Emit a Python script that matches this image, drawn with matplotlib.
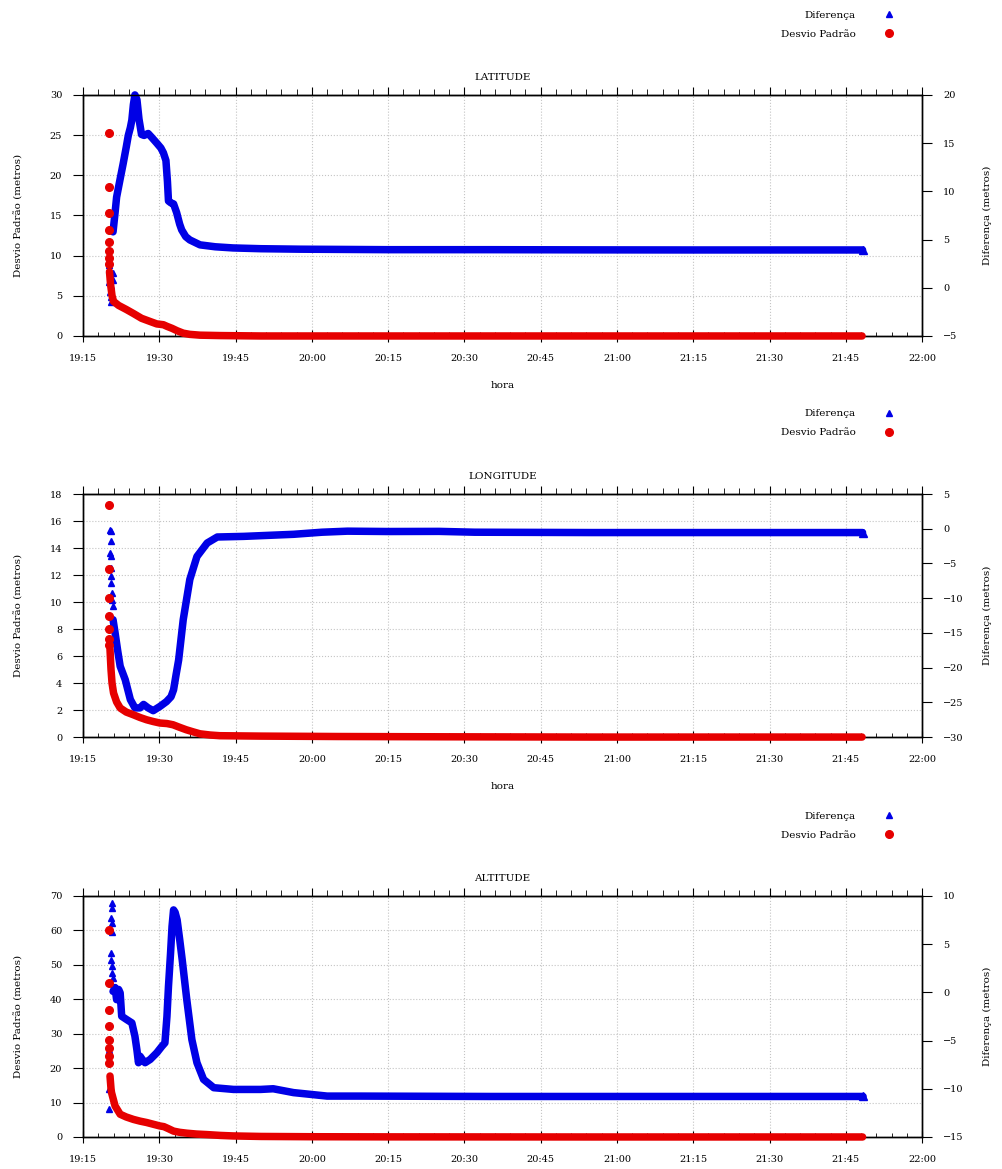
import matplotlib
matplotlib.use('Agg')
import matplotlib.pyplot as plt
import matplotlib.dates as mdates
from matplotlib.lines import Line2D
from matplotlib.ticker import MultipleLocator, NullFormatter
import pandas as pd

plt.rcParams['font.family'] = 'DejaVu Serif'
plt.rcParams['font.size'] = 7

BLUE = '#0000e6'
RED = '#e60000'

# all times are minutes after 19:15
# ---- LATITUDE ----
lat_dp_spread_t = [5.1, 5.1, 5.1, 5.1, 5.1, 5.1, 5.1, 5.1]
lat_dp_spread_v = [25.3, 18.6, 15.3, 13.2, 11.7, 10.6, 9.7, 8.9]
lat_dp_t = [5.2, 5.4, 5.7, 6.0, 7.0, 8.5, 9.9, 11.5, 13.2, 14.5, 15.8, 16.5, 17.5,
            18.5, 19.7, 21.0, 23.0, 27.0, 35.0, 60.0, 100.0, 153.2]
lat_dp_v = [8.0, 6.5, 5.0, 4.3, 3.8, 3.3, 2.8, 2.2, 1.8, 1.5, 1.4, 1.2, 0.95,
            0.65, 0.35, 0.2, 0.1, 0.05, 0.0, 0.0, 0.0, 0.0]
lat_dif_spread_t = [5.1, 5.2, 5.3, 5.2, 5.4, 5.3, 5.5, 5.4, 5.8, 5.9]
lat_dif_spread_v = [2.4, 1.8, 1.2, 0.6, 0.2, -0.4, -1.0, -1.5, 1.5, 0.8]
lat_dif_t = [5.9, 6.3, 6.6, 7.3, 7.9, 8.5, 8.9, 9.3, 9.6, 9.9, 10.2, 10.6, 11.0,
             11.5, 12.0, 12.8, 13.5, 14.5, 15.3, 15.8, 16.3, 16.6, 16.8, 17.3,
             17.8, 18.4, 19.0, 19.4, 20.2, 21.0, 23.0, 26.0, 29.5, 35.0, 42.7,
             60.0, 80.0, 100.0, 120.0, 153.3]
lat_dif_v = [5.8, 7.8, 9.4, 11.3, 12.9, 14.6, 15.8, 16.6, 17.4, 19.0, 20.0, 19.5,
             17.5, 15.9, 15.8, 16.0, 15.6, 15.0, 14.5, 14.0, 13.2, 11.0, 9.0, 8.8,
             8.7, 7.8, 6.6, 6.0, 5.3, 4.96, 4.45, 4.25, 4.13, 4.05, 4.0,
             3.95, 3.95, 3.93, 3.92, 3.92]

# ---- LONGITUDE ----
lon_dp_spread_t = [5.2, 5.2, 5.2, 5.2, 5.2, 5.2, 5.2]
lon_dp_spread_v = [17.15, 12.47, 10.3, 8.93, 8.0, 7.28, 6.84]
lon_dp_t = [5.3, 5.5, 5.7, 6.0, 6.6, 7.3, 8.5, 9.9, 11.2, 12.5, 13.8, 15.1, 16.5,
            17.7, 19.0, 20.3, 21.7, 23.0, 25.0, 26.9, 35.0, 50.0, 70.0, 100.0, 153.2]
lon_dp_v = [6.5, 5.0, 4.0, 3.26, 2.6, 2.15, 1.85, 1.65, 1.45, 1.28, 1.15, 1.04, 1.0,
            0.91, 0.72, 0.54, 0.38, 0.24, 0.15, 0.1, 0.07, 0.04, 0.02, 0.0, 0.0]
lon_dif_spread_t = [5.3, 5.4, 5.4, 5.3, 5.4, 5.5, 5.5, 5.5, 5.6, 5.7, 5.8]
lon_dif_spread_v = [-0.14, -0.3, -1.83, -3.5, -3.99, -5.66, -6.87, -7.82, -9.26,
                    -10.3, -11.19]
lon_dif_t = [5.9, 6.3, 6.8, 7.3, 8.3, 9.3, 10.2, 11.2, 11.9, 12.8, 13.8, 15.1, 16.4,
             17.3, 17.8, 18.3, 18.8, 19.7, 21.0, 22.4, 24.4, 26.4, 31.6, 41.4,
             47.0, 52.0, 60.0, 70.0, 77.0, 100.0, 153.3]
lon_dif_v = [-13.1, -15.0, -17.5, -19.8, -21.75, -24.6, -25.8, -25.8, -25.3, -25.8,
             -26.2, -25.6, -24.9, -24.2, -23.2, -21.0, -18.9, -13.1, -7.3, -4.0,
             -2.06, -1.19, -1.1, -0.8, -0.5, -0.35, -0.4, -0.38, -0.5, -0.55, -0.55]

# ---- ALTITUDE ----
alt_dp_spread_t = [5.2, 5.2, 5.2, 5.2, 5.2, 5.2, 5.2, 5.2]
alt_dp_spread_v = [60.2, 44.7, 37.0, 32.1, 28.3, 25.9, 23.5, 21.5]
alt_dp_t = [5.3, 5.5, 5.6, 6.3, 7.3, 8.5, 9.9, 11.2, 12.5, 13.8, 15.1, 15.9, 16.8,
            17.8, 19.0, 20.4, 22.3, 24.3, 27.0, 29.5, 35.0, 45.0, 60.0, 100.0, 153.3]
alt_dp_v = [17.7, 14.0, 12.9, 9.0, 6.6, 5.8, 5.1, 4.6, 4.2, 3.7, 3.2, 3.0, 2.4,
            1.7, 1.35, 1.1, 0.85, 0.7, 0.45, 0.3, 0.15, 0.07, 0.03, 0.0, 0.0]
alt_dif_spread_t = [5.6, 5.7, 5.5, 5.6, 5.6, 5.4, 5.5, 5.6, 5.7, 5.8, 5.2, 5.2, 5.1]
alt_dif_spread_v = [9.25, 8.73, 7.7, 7.18, 6.3, 4.07, 3.38, 2.69, 2.0, 1.49,
                    -5.93, -10.07, -12.1]
alt_dif_t = [5.9, 6.3, 6.6, 7.0, 7.3, 7.6, 8.6, 9.6, 10.2, 10.6, 10.9, 11.2, 11.7,
             12.2, 13.2, 14.5, 15.5, 16.1, 16.5, 16.8, 17.2, 17.5, 17.8, 18.1, 18.5,
             19.0, 19.5, 20.4, 21.4, 22.4, 23.7, 25.7, 29.6, 34.9, 37.4, 41.4, 48.0,
             54.5, 80.0, 120.0, 153.4]
alt_dif_v = [0.1, 0.5, -0.76, 0.3, -0.06, -2.48, -2.83, -3.17, -4.55, -6.0, -7.3,
             -6.62, -7.0, -7.3, -6.96, -6.27, -5.6, -5.24, -2.5, 0.62, 4.0, 6.83,
             8.55, 8.3, 7.52, 5.5, 3.38, -0.76, -4.9, -7.3, -9.03, -9.89, -10.07,
             -10.07, -10.0, -10.4, -10.76, -10.76, -10.8, -10.8, -10.8]

titles = ['LATITUDE', 'LONGITUDE', 'ALTITUDE']
left_lims = [(0, 30), (0, 18), (0, 70)]
left_steps = [5, 2, 10]
right_lims = [(-5, 20), (-30, 5), (-15, 10)]

series = [
    (lat_dp_spread_t, lat_dp_spread_v, lat_dp_t, lat_dp_v,
     lat_dif_spread_t, lat_dif_spread_v, lat_dif_t, lat_dif_v),
    (lon_dp_spread_t, lon_dp_spread_v, lon_dp_t, lon_dp_v,
     lon_dif_spread_t, lon_dif_spread_v, lon_dif_t, lon_dif_v),
    (alt_dp_spread_t, alt_dp_spread_v, alt_dp_t, alt_dp_v,
     alt_dif_spread_t, alt_dif_spread_v, alt_dif_t, alt_dif_v),
]

base = pd.Timestamp('2014-01-01 19:15')


def to_num(minutes):
    return mdates.date2num(base + pd.to_timedelta(minutes, unit='min'))


rects = [(0.0828, 0.7126, 0.8365, 0.2062),
         (0.0828, 0.3695, 0.8365, 0.2079),
         (0.0828, 0.0274, 0.8365, 0.2062)]

fig = plt.figure(figsize=(10.03, 11.69), dpi=100)

for i, rect in enumerate(rects):
    dp_st, dp_sv, dp_t, dp_v, df_st, df_sv, df_t, df_v = series[i]

    ax = fig.add_axes(rect)
    ax.set_zorder(0)
    ax2 = ax.twinx()
    ax2.set_zorder(1)
    ax3 = fig.add_axes(rect, sharex=ax, sharey=ax)
    ax3.set_zorder(2)
    ax3.set_axis_off()

    # Diferenca (right axis)
    ax2.plot(to_num(df_t), df_v, color=BLUE, lw=5.4, marker='^', ms=5.5,
             markevery=[-1], solid_capstyle='round', solid_joinstyle='round',
             clip_on=False)
    ax2.plot(to_num(df_st), df_sv, ls='none', color=BLUE, marker='^', ms=5,
             clip_on=False)
    # Desvio Padrao (left axis)
    ax3.plot(to_num(dp_t), dp_v, color=RED, lw=5.4, solid_capstyle='round',
             solid_joinstyle='round', clip_on=False)
    ax3.plot(to_num(dp_st), dp_sv, ls='none', color=RED, marker='o', ms=5.5,
             clip_on=False)

    ax.set_xlim(to_num(0), to_num(165))
    ax.set_ylim(*left_lims[i])
    ax2.set_ylim(*right_lims[i])
    ax.yaxis.set_major_locator(MultipleLocator(left_steps[i]))
    ax2.yaxis.set_major_locator(MultipleLocator(5))

    ax.xaxis.set_major_locator(mdates.MinuteLocator(byminute=[0, 15, 30, 45]))
    ax.xaxis.set_minor_locator(mdates.MinuteLocator(byminute=range(0, 60, 3)))
    ax.xaxis.set_major_formatter(mdates.DateFormatter('%H:%M'))

    ax.tick_params(axis='x', which='major', direction='inout', length=8, pad=9,
                   labelsize=7)
    ax.tick_params(axis='x', which='minor', direction='in', length=3)
    ax.tick_params(axis='y', direction='out', length=7, pad=8, labelsize=7)
    ax2.tick_params(axis='y', direction='out', length=7, pad=8, labelsize=7)

    top = ax.secondary_xaxis('top')
    top.xaxis.set_major_locator(mdates.MinuteLocator(byminute=[0, 15, 30, 45]))
    top.xaxis.set_minor_locator(mdates.MinuteLocator(byminute=range(0, 60, 3)))
    top.xaxis.set_major_formatter(NullFormatter())
    top.tick_params(which='major', direction='out', length=6)
    top.tick_params(which='minor', direction='out', length=4)

    ax.grid(True, which='major', ls=':', color='#c4c4c4', lw=0.8)

    for a in (ax, ax2):
        for sp in a.spines.values():
            sp.set_linewidth(1.0)

    ax.set_ylabel('Desvio Padrão (metros)', fontsize=7.5)
    ax.yaxis.set_label_coords(-0.071, 0.5)
    ax2.set_ylabel('Diferença (metros)', fontsize=7.5)
    ax2.yaxis.set_label_coords(1.072, 0.5)
    if i < 2:
        ax.set_xlabel('hora', fontsize=7.5)
        ax.xaxis.set_label_coords(0.5, -0.185)

    ax.text(0.5, 1 + 17 / 241, titles[i], ha='center', va='center',
            transform=ax.transAxes, fontsize=7.5)

    handles = [Line2D([], [], ls='none', marker='^', ms=5, color=BLUE),
               Line2D([], [], ls='none', marker='o', ms=5.5, color=RED)]
    ax.legend(handles, ['Diferença', 'Desvio Padrão'], markerfirst=False,
              frameon=False, loc='upper right', bbox_to_anchor=(0.968, 1.35),
              borderpad=0, borderaxespad=0, handlelength=1.2,
              handletextpad=2.6, labelspacing=0.95, fontsize=7.5)

fig.savefig('out.png', dpi=100)
